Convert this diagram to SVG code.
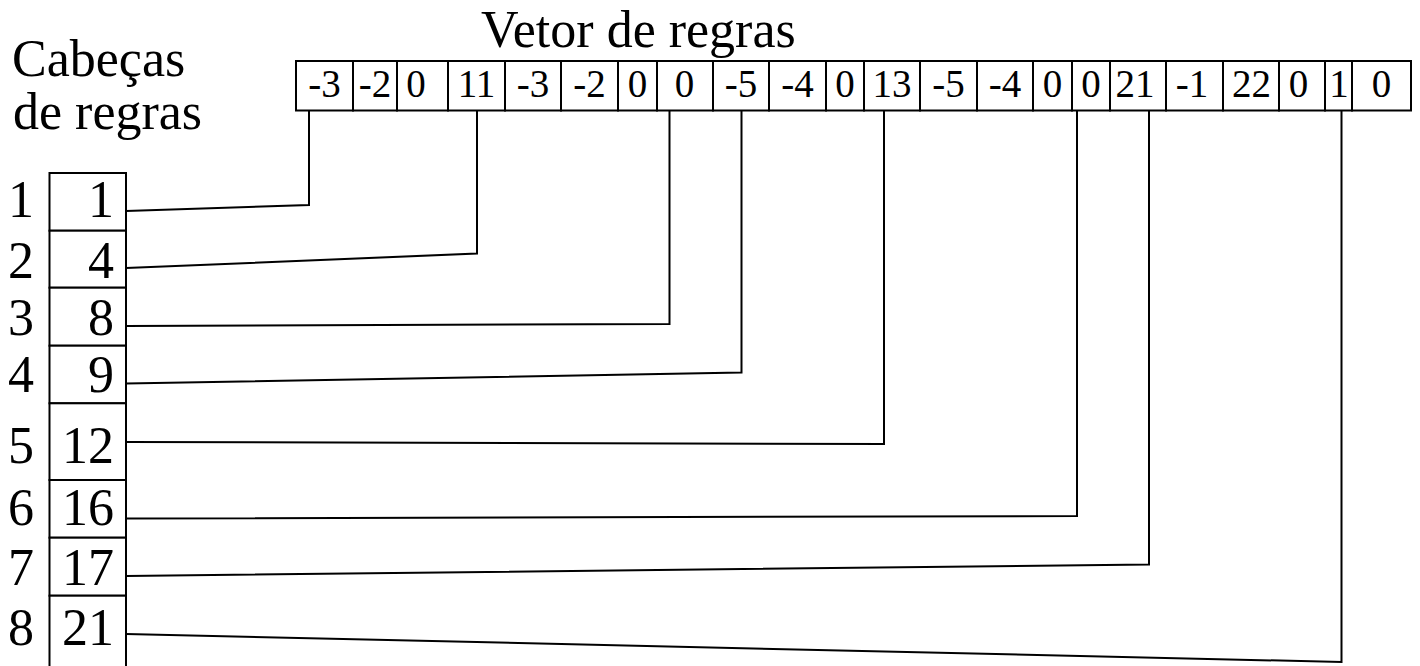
<svg xmlns="http://www.w3.org/2000/svg" width="1420" height="666" viewBox="0 0 1420 666">
<style>
text{font-family:"Liberation Serif","Times New Roman",Times,Tinos,"Noto Serif","DejaVu Serif",serif;fill:#000}
.t{font-size:52px}
.v{font-size:39px;text-anchor:middle}
.h{font-size:52px}
.hv{text-anchor:end}
.hi{text-anchor:middle}
.cell{fill:#fff;stroke:#000;stroke-width:2}
.con{fill:none;stroke:#000;stroke-width:2;stroke-linejoin:miter}
</style>
<rect width="1420" height="666" fill="#fff"/>
<g id="titles">
<text class="t" x="481" y="47">Vetor de regras</text>
<text class="h" x="12" y="76">Cabeças</text>
<text class="h" x="13" y="129">de regras</text>
</g>
<g id="vetor">
<g id="v1"><rect class="cell" x="296" y="61" width="57" height="49.5"/><text class="v" x="324.5" y="97">-3</text></g>
<g id="v2"><rect class="cell" x="353" y="61" width="44" height="49.5"/><text class="v" x="375" y="97">-2</text></g>
<g id="v3"><rect class="cell" x="397" y="61" width="51" height="49.5"/><text class="v" x="416" y="97">0</text></g>
<g id="v4"><rect class="cell" x="448" y="61" width="57" height="49.5"/><text class="v" x="476.5" y="97">11</text></g>
<g id="v5"><rect class="cell" x="505" y="61" width="56" height="49.5"/><text class="v" x="533" y="97">-3</text></g>
<g id="v6"><rect class="cell" x="561" y="61" width="57" height="49.5"/><text class="v" x="589.5" y="97">-2</text></g>
<g id="v7"><rect class="cell" x="618" y="61" width="39" height="49.5"/><text class="v" x="637.5" y="97">0</text></g>
<g id="v8"><rect class="cell" x="657" y="61" width="56" height="49.5"/><text class="v" x="684.5" y="97">0</text></g>
<g id="v9"><rect class="cell" x="713" y="61" width="56" height="49.5"/><text class="v" x="741" y="97">-5</text></g>
<g id="v10"><rect class="cell" x="769" y="61" width="57" height="49.5"/><text class="v" x="797.5" y="97">-4</text></g>
<g id="v11"><rect class="cell" x="826" y="61" width="38" height="49.5"/><text class="v" x="845" y="97">0</text></g>
<g id="v12"><rect class="cell" x="864" y="61" width="56" height="49.5"/><text class="v" x="892" y="97">13</text></g>
<g id="v13"><rect class="cell" x="920" y="61" width="57" height="49.5"/><text class="v" x="948.5" y="97">-5</text></g>
<g id="v14"><rect class="cell" x="977" y="61" width="56" height="49.5"/><text class="v" x="1005" y="97">-4</text></g>
<g id="v15"><rect class="cell" x="1033" y="61" width="39" height="49.5"/><text class="v" x="1052.5" y="97">0</text></g>
<g id="v16"><rect class="cell" x="1072" y="61" width="38" height="49.5"/><text class="v" x="1091" y="97">0</text></g>
<g id="v17"><rect class="cell" x="1110" y="61" width="56" height="49.5"/><text class="v" x="1135" y="97">21</text></g>
<g id="v18"><rect class="cell" x="1166" y="61" width="57" height="49.5"/><text class="v" x="1192" y="97">-1</text></g>
<g id="v19"><rect class="cell" x="1223" y="61" width="56" height="49.5"/><text class="v" x="1251.5" y="97">22</text></g>
<g id="v20"><rect class="cell" x="1279" y="61" width="46" height="49.5"/><text class="v" x="1298.5" y="97">0</text></g>
<g id="v21"><rect class="cell" x="1325" y="61" width="27" height="49.5"/><text class="v" x="1339" y="97">1</text></g>
<g id="v22"><rect class="cell" x="1352" y="61" width="59" height="49.5"/><text class="v" x="1381.5" y="97">0</text></g>
</g>
<g id="cabecas">
<g id="h1"><rect class="cell" x="49.5" y="173" width="76.5" height="57.7"/><text class="h hi" x="21" y="217">1</text><text class="h hv" x="114" y="217">1</text></g>
<g id="h2"><rect class="cell" x="49.5" y="230.7" width="76.5" height="57"/><text class="h hi" x="21" y="278">2</text><text class="h hv" x="114" y="278">4</text></g>
<g id="h3"><rect class="cell" x="49.5" y="287.7" width="76.5" height="58"/><text class="h hi" x="21" y="335">3</text><text class="h hv" x="114" y="335">8</text></g>
<g id="h4"><rect class="cell" x="49.5" y="345.7" width="76.5" height="57.6"/><text class="h hi" x="21" y="392">4</text><text class="h hv" x="114" y="392">9</text></g>
<g id="h5"><rect class="cell" x="49.5" y="403.3" width="76.5" height="76.7"/><text class="h hi" x="21" y="463">5</text><text class="h hv" x="114" y="463">12</text></g>
<g id="h6"><rect class="cell" x="49.5" y="480" width="76.5" height="57.7"/><text class="h hi" x="21" y="525">6</text><text class="h hv" x="114" y="525">16</text></g>
<g id="h7"><rect class="cell" x="49.5" y="537.7" width="76.5" height="58"/><text class="h hi" x="21" y="585">7</text><text class="h hv" x="114" y="585">17</text></g>
<g id="h8"><rect class="cell" x="49.5" y="595.7" width="76.5" height="80"/><text class="h hi" x="21" y="645">8</text><text class="h hv" x="114" y="645">21</text></g>
</g>
<g id="connectors">
<polyline class="con" points="126,211 309,205 309,110.5"/>
<polyline class="con" points="126,268 477,253.5 477,110.5"/>
<polyline class="con" points="126,326 669.5,324 669.5,110.5"/>
<polyline class="con" points="126,383.5 741.5,372.5 741.5,110.5"/>
<polyline class="con" points="126,442 884,444 884,110.5"/>
<polyline class="con" points="126,518.5 1077,516 1077,110.5"/>
<polyline class="con" points="126,576 1149,564.5 1149,110.5"/>
<polyline class="con" points="126,634 1341.5,662 1341.5,110.5"/>
</g>
</svg>
